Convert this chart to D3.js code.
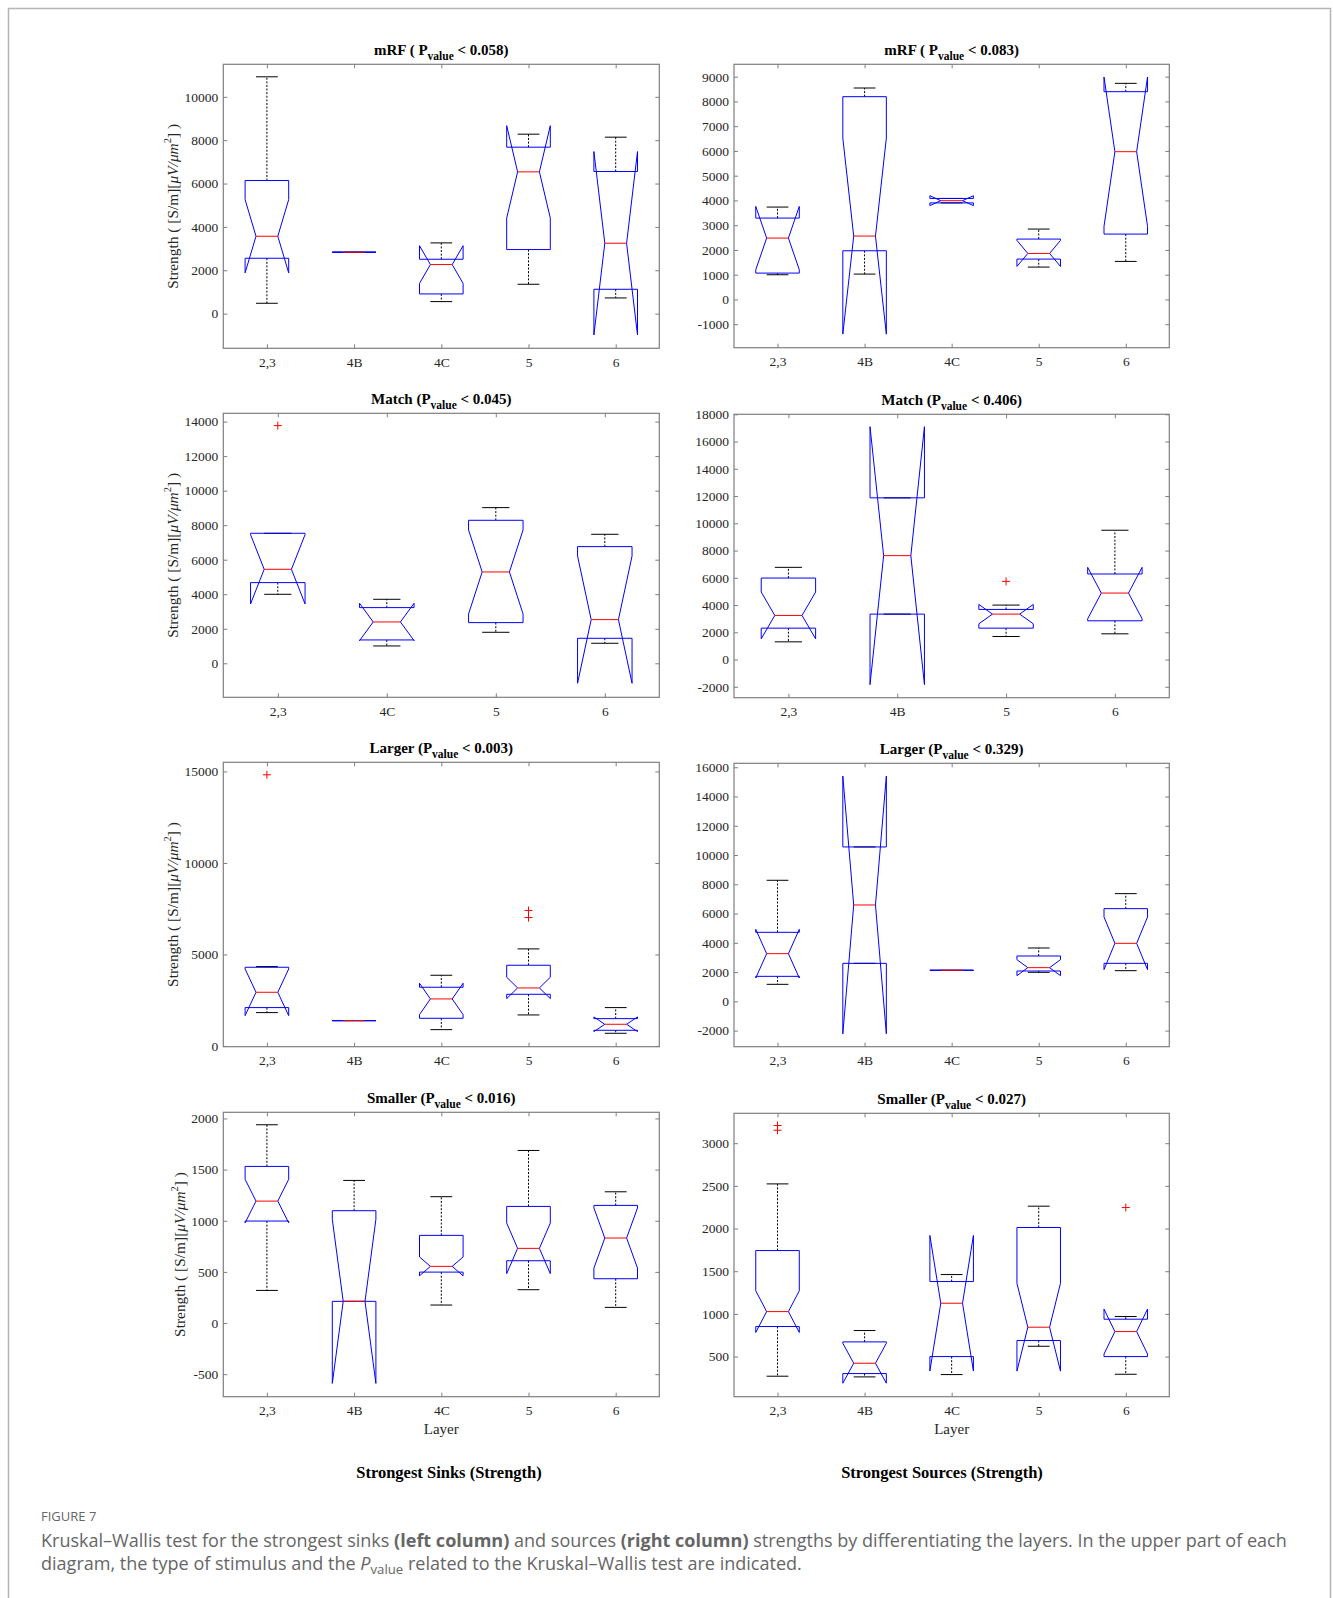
<!DOCTYPE html>
<html>
<head>
<meta charset="utf-8">
<script src="https://cdn.jsdelivr.net/npm/d3@7"></script>
<style>
  html, body { margin: 0; padding: 0; background: #fff; }
  svg { display: block; }
</style>
</head>
<body>
<script>
// ---- Layer categories ----
const layers5 = ["2,3", "4B", "4C", "5", "6"];
const layersNo4B = ["2,3", "4C", "5", "6"];
const layersNo4C = ["2,3", "4B", "5", "6"];

// ---- Strongest sinks, mRF stimulus ----
const sinkMrfLow   = [477, 2831, 554, 1354, 723];
const sinkMrfQ1    = [2554, 2831, 908, 2954, 1123];
const sinkMrfMed   = [3569, 2831, 2262, 6538, 3246];
const sinkMrfQ3    = [6138, 2831, 2508, 7677, 6554];
const sinkMrfHigh  = [10923, 2831, 3262, 8277, 8138];
const sinkMrfNotch = [1690, 0, 870, 2130, 4230];
const sinkMrfOut   = [[], [], [], [], []];
const sinkMrfLim   = [-1600, 11500];
const sinkMrfTicks = [0, 2000, 4000, 6000, 8000, 10000];

// ---- Strongest sources, mRF stimulus ----
const srcMrfLow   = [997, 1024, 3900, 1307, 1536];
const srcMrfQ1    = [1064, 1967, 3900, 1630, 2641];
const srcMrfMed   = [2479, 2560, 3990, 1859, 5969];
const srcMrfQ3    = [3287, 8192, 4080, 2439, 8394];
const srcMrfHigh  = [3732, 8542, 4080, 2843, 8731];
const srcMrfNotch = [1280, 3961, 200, 525, 3018];
const srcMrfOut   = [[], [], [], [], []];
const srcMrfLim   = [-1950, 9500];
const srcMrfTicks = [-1000, 0, 1000, 2000, 3000, 4000, 5000, 6000, 7000, 8000, 9000];

// ---- Strongest sinks, Match stimulus ----
const sinkMatchLow   = [3997, 1004, 1796, 1159];
const sinkMatchQ1    = [4673, 1352, 2356, 1448];
const sinkMatchMed   = [5445, 2394, 5291, 2529];
const sinkMatchQ3    = [7530, 3225, 8283, 6758];
const sinkMatchHigh  = [7530, 3707, 9017, 7472];
const sinkMatchNotch = [2008, 1082, 2433, 3687];
const sinkMatchOut   = [[13767], [], [], []];
const sinkMatchLim   = [-1970, 14480];
const sinkMatchTicks = [0, 2000, 4000, 6000, 8000, 10000, 12000, 14000];

// ---- Strongest sources, Match stimulus ----
const srcMatchLow   = [1300, 3335, 1692, 1888];
const srcMatchQ1    = [2305, 3335, 2305, 2844];
const srcMatchMed   = [3237, 7626, 3335, 4880];
const srcMatchQ3    = [5983, 11868, 3678, 6278];
const srcMatchHigh  = [6768, 11868, 3997, 9490];
const srcMatchNotch = [1717, 9465, 711, 1888];
const srcMatchOut   = [[], [], [5738], []];
const srcMatchLim   = [-2800, 18000];
const srcMatchTicks = [-2000, 0, 2000, 4000, 6000, 8000, 10000, 12000, 14000, 16000, 18000];

// ---- Strongest sinks, Larger stimulus ----
const sinkLargerLow   = [1823, 1385, 893, 1695, 693];
const sinkLargerQ1    = [2096, 1385, 1513, 2825, 857];
const sinkLargerMed   = [2934, 1385, 2570, 3171, 1185];
const sinkLargerQ3    = [4301, 1385, 3208, 4411, 1494];
const sinkLargerHigh  = [4338, 1385, 3864, 5304, 2096];
const sinkLargerNotch = [1275, 0, 857, 583, 401];
const sinkLargerOut   = [[14817], [], [], [7399, 7017], []];
const sinkLargerLim   = [-40, 15500];
const sinkLargerTicks = [0, 5000, 10000, 15000];

// ---- Strongest sources, Larger stimulus ----
const srcLargerLow   = [1162, 2598, 2120, 1983, 2097];
const srcLargerQ1    = [1709, 2598, 2120, 2074, 2598];
const srcLargerMed   = [3259, 6587, 2120, 2302, 3966];
const srcLargerQ3    = [4718, 10553, 2120, 3100, 6336];
const srcLargerHigh  = [8274, 10553, 2120, 3647, 7362];
const srcLargerNotch = [1664, 8810, 0, 547, 1800];
const srcLargerOut   = [[], [], [], [], []];
const srcLargerLim   = [-3100, 16270];
const srcLargerTicks = [-2000, 0, 2000, 4000, 6000, 8000, 10000, 12000, 14000, 16000];

// ---- Strongest sinks, Smaller stimulus ----
const sinkSmallerLow   = [319, 212, 176, 326, 153];
const sinkSmallerQ1    = [997, 212, 498, 609, 433];
const sinkSmallerMed   = [1192, 212, 554, 730, 831];
const sinkSmallerQ3    = [1531, 1098, 857, 1140, 1150];
const sinkSmallerHigh  = [1938, 1394, 1235, 1687, 1283];
const sinkSmallerNotch = [213, 802, 92, 247, 294];
const sinkSmallerOut   = [[], [], [], [], []];
const sinkSmallerLim   = [-720, 2060];
const sinkSmallerTicks = [-500, 0, 500, 1000, 1500, 2000];

// ---- Strongest sources, Smaller stimulus ----
const srcSmallerLow   = [270, 262, 289, 621, 293];
const srcSmallerQ1    = [852, 301, 500, 688, 500];
const srcSmallerMed   = [1027, 422, 1125, 844, 793];
const srcSmallerQ3    = [1742, 672, 1379, 2012, 938];
const srcSmallerHigh  = [2523, 805, 1461, 2262, 969];
const srcSmallerNotch = [244, 234, 794, 514, 264];
const srcSmallerOut   = [[3207, 3152], [], [], [], [2246]];
const srcSmallerLim   = [30, 3350];
const srcSmallerTicks = [500, 1000, 1500, 2000, 2500, 3000];

// ---- Panel titles and Kruskal–Wallis p-values ----
const stimuli = ["mRF", "Match", "Larger", "Smaller"];
const sinkPvalues = ["0.058", "0.045", "0.003", "0.016"];
const srcPvalues = ["0.083", "0.406", "0.329", "0.027"];

// ---------------------------------------------------------------
const W = 1333, H = 1598;
const SERIF = "'Liberation Serif', 'Times New Roman', serif";
const SANS = "'Open Sans', 'Noto Sans', sans-serif";
const AXIS_GRAY = "#7f7f7f";
const TEXT_DARK = "#262626";
const CAPTION_GRAY = "#666666";

const svg = d3.select("body").append("svg")
  .attr("width", W).attr("height", H)
  .attr("viewBox", `0 0 ${W} ${H}`);

// Figure frame (open at the bottom)
svg.append("path")
  .attr("d", "M8.5,1598 V8.5 H1330.5 V1598")
  .attr("fill", "none").attr("stroke", "#b5b5b5").attr("stroke-width", 1.5);

// Axes rectangles for the two columns and four rows
const colX = [[223.3, 659.3], [734, 1169.3]];
const rowY = [
  [[64.3, 348.3], [64.3, 347.7]],
  [[413.3, 697.3], [414.3, 697.7]],
  [[762.3, 1046.7], [763.3, 1046.7]],
  [[1112.3, 1396.7], [1113.3, 1396.7]]
];

const panels = [
  { row: 0, col: 0, cats: layers5, low: sinkMrfLow, q1: sinkMrfQ1, med: sinkMrfMed, q3: sinkMrfQ3, high: sinkMrfHigh, notch: sinkMrfNotch, out: sinkMrfOut, lim: sinkMrfLim, ticks: sinkMrfTicks, spaced: true },
  { row: 0, col: 1, cats: layers5, low: srcMrfLow, q1: srcMrfQ1, med: srcMrfMed, q3: srcMrfQ3, high: srcMrfHigh, notch: srcMrfNotch, out: srcMrfOut, lim: srcMrfLim, ticks: srcMrfTicks, spaced: true },
  { row: 1, col: 0, cats: layersNo4B, low: sinkMatchLow, q1: sinkMatchQ1, med: sinkMatchMed, q3: sinkMatchQ3, high: sinkMatchHigh, notch: sinkMatchNotch, out: sinkMatchOut, lim: sinkMatchLim, ticks: sinkMatchTicks },
  { row: 1, col: 1, cats: layersNo4C, low: srcMatchLow, q1: srcMatchQ1, med: srcMatchMed, q3: srcMatchQ3, high: srcMatchHigh, notch: srcMatchNotch, out: srcMatchOut, lim: srcMatchLim, ticks: srcMatchTicks },
  { row: 2, col: 0, cats: layers5, low: sinkLargerLow, q1: sinkLargerQ1, med: sinkLargerMed, q3: sinkLargerQ3, high: sinkLargerHigh, notch: sinkLargerNotch, out: sinkLargerOut, lim: sinkLargerLim, ticks: sinkLargerTicks },
  { row: 2, col: 1, cats: layers5, low: srcLargerLow, q1: srcLargerQ1, med: srcLargerMed, q3: srcLargerQ3, high: srcLargerHigh, notch: srcLargerNotch, out: srcLargerOut, lim: srcLargerLim, ticks: srcLargerTicks },
  { row: 3, col: 0, cats: layers5, low: sinkSmallerLow, q1: sinkSmallerQ1, med: sinkSmallerMed, q3: sinkSmallerQ3, high: sinkSmallerHigh, notch: sinkSmallerNotch, out: sinkSmallerOut, lim: sinkSmallerLim, ticks: sinkSmallerTicks },
  { row: 3, col: 1, cats: layers5, low: srcSmallerLow, q1: srcSmallerQ1, med: srcSmallerMed, q3: srcSmallerQ3, high: srcSmallerHigh, notch: srcSmallerNotch, out: srcSmallerOut, lim: srcSmallerLim, ticks: srcSmallerTicks }
];

const plainNumber = d => String(d).replace("\u2212", "-");

panels.forEach(p => {
  const [x0, x1] = colX[p.col];
  const [y0, y1] = rowY[p.row][p.col];
  const n = p.cats.length;
  const x = d3.scaleLinear().domain([0.5, n + 0.5]).range([x0, x1]);
  const y = d3.scaleLinear().domain(p.lim).range([y1, y0]);
  const g = svg.append("g");

  // Axes box
  g.append("rect")
    .attr("x", x0).attr("y", y0).attr("width", x1 - x0).attr("height", y1 - y0)
    .attr("fill", "none").attr("stroke", AXIS_GRAY).attr("stroke-width", 1.2);

  const styleAxis = sel => {
    sel.select(".domain").remove();
    sel.selectAll(".tick line").attr("stroke", AXIS_GRAY).attr("stroke-width", 1);
    sel.selectAll(".tick text").attr("fill", TEXT_DARK)
      .style("font-family", SERIF).style("font-size", "13.5px");
  };

  const idx = d3.range(1, n + 1);
  const yLeft = g.append("g").attr("transform", `translate(${x0},0)`)
    .call(d3.axisLeft(y).tickValues(p.ticks).tickSize(-4).tickPadding(5).tickFormat(plainNumber))
    .call(styleAxis);
  g.append("g").attr("transform", `translate(${x1},0)`)
    .call(d3.axisRight(y).tickValues(p.ticks).tickSize(-4).tickFormat(""))
    .call(styleAxis);
  g.append("g").attr("transform", `translate(0,${y1})`)
    .call(d3.axisBottom(x).tickValues(idx).tickSize(-4).tickPadding(9).tickFormat(i => p.cats[i - 1]))
    .call(styleAxis);
  g.append("g").attr("transform", `translate(0,${y0})`)
    .call(d3.axisTop(x).tickValues(idx).tickSize(-4).tickFormat(""))
    .call(styleAxis);

  const boxHalf = 0.25;          // half box width in category units
  const capHalf = 0.125;         // whisker cap and notch waist half width

  const stats = idx.map((c, i) => ({
    c, low: p.low[i], q1: p.q1[i], med: p.med[i], q3: p.q3[i], high: p.high[i],
    nlo: p.med[i] - p.notch[i], nhi: p.med[i] + p.notch[i], out: p.out[i]
  }));

  // Whiskers (dashed) and caps
  stats.forEach(s => {
    [[s.q3, s.high], [s.q1, s.low]].forEach(([a, b]) => {
      if (a !== b) {
        g.append("line")
          .attr("x1", x(s.c)).attr("x2", x(s.c)).attr("y1", y(a)).attr("y2", y(b))
          .attr("stroke", "#000").attr("stroke-width", 1).attr("stroke-dasharray", "2,1.6");
      }
    });
    [s.high, s.low].forEach(v => {
      g.append("line")
        .attr("x1", x(s.c - capHalf)).attr("x2", x(s.c + capHalf))
        .attr("y1", y(v)).attr("y2", y(v))
        .attr("stroke", "#000").attr("stroke-width", 1);
    });
  });

  // Notched boxes
  const line = d3.line().x(d => x(d[0])).y(d => y(d[1]));
  stats.forEach(s => {
    const c = s.c;
    const pts = [
      [c - boxHalf, s.q1], [c - boxHalf, s.nlo], [c - capHalf, s.med], [c - boxHalf, s.nhi],
      [c - boxHalf, s.q3], [c + boxHalf, s.q3], [c + boxHalf, s.nhi], [c + capHalf, s.med],
      [c + boxHalf, s.nlo], [c + boxHalf, s.q1], [c - boxHalf, s.q1]
    ];
    g.append("path").attr("d", line(pts))
      .attr("fill", "none").attr("stroke", "#0000ff").attr("stroke-width", 1)
      .attr("stroke-linejoin", "miter");
  });

  // Medians
  stats.forEach(s => {
    g.append("line")
      .attr("x1", x(s.c - capHalf)).attr("x2", x(s.c + capHalf))
      .attr("y1", y(s.med)).attr("y2", y(s.med))
      .attr("stroke", "#ff0000").attr("stroke-width", 1);
  });

  // Outliers
  stats.forEach(s => {
    s.out.forEach(v => {
      const cx = x(s.c), cy = y(v), r = 4;
      g.append("path")
        .attr("d", `M${cx - r},${cy}H${cx + r}M${cx},${cy - r}V${cy + r}`)
        .attr("stroke", "#ff0000").attr("stroke-width", 1).attr("fill", "none");
    });
  });

  // Title: stimulus and p-value
  const pv = p.col === 0 ? sinkPvalues[p.row] : srcPvalues[p.row];
  const title = g.append("text")
    .attr("x", (x0 + x1) / 2).attr("y", y0 - 9.5)
    .attr("text-anchor", "middle")
    .style("font-family", SERIF).style("font-weight", "bold").style("font-size", "15px")
    .attr("fill", "#000");
  title.append("tspan").text(stimuli[p.row] + (p.spaced ? " ( P" : " (P"));
  title.append("tspan").attr("dy", 5).style("font-size", "11.5px").text("value");
  title.append("tspan").attr("dy", -5).text(" < " + pv + ")");

  // Y label on the left column
  if (p.col === 0) {
    let maxW = 0;
    yLeft.selectAll(".tick text").each(function () { maxW = Math.max(maxW, this.getBBox().width); });
    const lx = x0 - 5 - maxW - 12;
    const ly = (y0 + y1) / 2;
    const yl = g.append("text")
      .attr("transform", `translate(${lx},${ly}) rotate(-90)`)
      .attr("text-anchor", "middle").attr("dominant-baseline", "central")
      .style("font-family", SERIF).style("font-size", "15.4px").attr("fill", TEXT_DARK);
    yl.append("tspan").text("Strength ( [S/m][");
    yl.append("tspan").style("font-style", "italic").text("\u03bcV/\u03bcm");
    yl.append("tspan").attr("dy", -5).style("font-size", "10.5px").text("2");
    yl.append("tspan").attr("dy", 5).text("] )");
  }

  // X label on the bottom row
  if (p.row === 3) {
    g.append("text")
      .attr("x", (x0 + x1) / 2).attr("y", y1 + 37)
      .attr("text-anchor", "middle")
      .style("font-family", SERIF).style("font-size", "15px").attr("fill", TEXT_DARK)
      .text("Layer");
  }
});

// Column captions
const columnNames = ["Strongest Sinks (Strength)", "Strongest Sources (Strength)"];
[449, 942].forEach((cx, i) => {
  svg.append("text")
    .attr("x", cx).attr("y", 1478)
    .attr("text-anchor", "middle")
    .style("font-family", SERIF).style("font-weight", "bold").style("font-size", "16.5px")
    .attr("fill", "#000")
    .text(columnNames[i]);
});

// Figure legend
svg.append("text")
  .attr("x", 41).attr("y", 1521)
  .style("font-family", SANS).style("font-size", "13px").attr("fill", CAPTION_GRAY)
  .text("FIGURE 7");

const cap1 = svg.append("text")
  .attr("x", 41).attr("y", 1547)
  .style("font-family", SANS).style("font-size", "16.5px").attr("fill", CAPTION_GRAY);
cap1.append("tspan").text("Kruskal\u2013Wallis test for the strongest sinks ");
cap1.append("tspan").style("font-weight", "bold").text("(left column)");
cap1.append("tspan").text(" and sources ");
cap1.append("tspan").style("font-weight", "bold").text("(right column)");
cap1.append("tspan").text(" strengths by differentiating the layers. In the upper part of each");

const cap2 = svg.append("text")
  .attr("x", 41).attr("y", 1570)
  .style("font-family", SANS).style("font-size", "16.5px").attr("fill", CAPTION_GRAY);
cap2.append("tspan").text("diagram, the type of stimulus and the ");
cap2.append("tspan").style("font-style", "italic").text("P");
cap2.append("tspan").attr("dy", 4).style("font-size", "12px").text("value");
cap2.append("tspan").attr("dy", -4).text(" related to the Kruskal\u2013Wallis test are indicated.");

// Fit the legend's first line to the text block width
const target = 1247;
const w1 = cap1.node().getComputedTextLength();
if (w1 > 0) {
  const fs = 16.5 * target / w1;
  cap1.style("font-size", fs + "px");
  cap2.style("font-size", fs + "px");
  cap2.selectAll("tspan").filter((d, i) => i === 2).style("font-size", (fs * 0.73) + "px");
}
</script>
</body>
</html>
